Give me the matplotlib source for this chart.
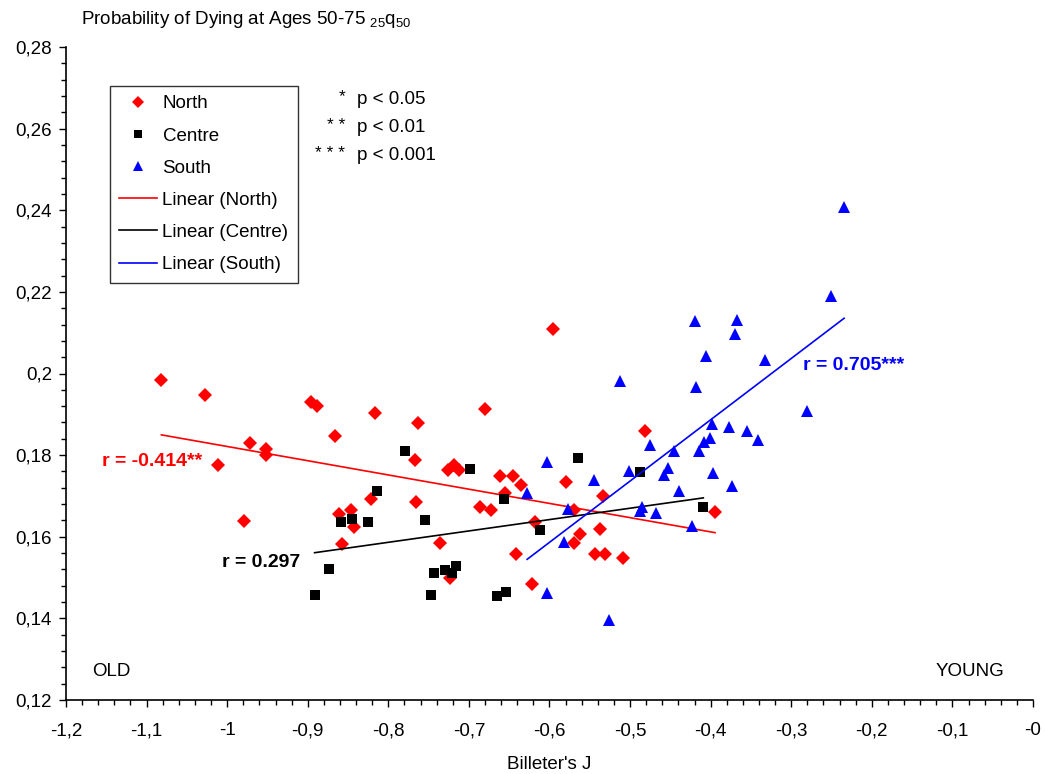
import numpy as np
import matplotlib
matplotlib.use('Agg')
import matplotlib.pyplot as plt
from matplotlib.lines import Line2D
from matplotlib.ticker import MultipleLocator, FuncFormatter

plt.rcParams['font.family'] = ['Liberation Sans', 'DejaVu Sans']
plt.rcParams['mathtext.default'] = 'regular'

# Billeter's J (x) and 25q50 (y), per region
north_x = [-1.0816, -1.0277, -0.8965, -0.8886, -0.8170, -0.8658, -0.9714, -0.9520,
           -0.9520, -1.0116, -0.9789, -0.8211, -0.8610, -0.8463, -0.8422, -0.8580,
           -0.5954, -0.6800, -0.7631, -0.7673, -0.7258, -0.7189, -0.7126, -0.6609,
           -0.6451, -0.6356, -0.6547, -0.7652, -0.6857, -0.6720, -0.5797, -0.5337,
           -0.5702, -0.4816, -0.3946, -0.6182, -0.5379, -0.5623, -0.5702, -0.7363,
           -0.6418, -0.5433, -0.5308, -0.5085, -0.7230, -0.6220]
north_y = [0.1985, 0.1948, 0.1929, 0.1920, 0.1902, 0.1848, 0.1829, 0.1814,
           0.1801, 0.1776, 0.1638, 0.1692, 0.1655, 0.1666, 0.1625, 0.1582,
           0.2110, 0.1913, 0.1878, 0.1787, 0.1764, 0.1777, 0.1764, 0.1750,
           0.1750, 0.1727, 0.1706, 0.1684, 0.1673, 0.1665, 0.1733, 0.1701,
           0.1666, 0.1860, 0.1661, 0.1636, 0.1619, 0.1607, 0.1585, 0.1585,
           0.1558, 0.1558, 0.1558, 0.1547, 0.1500, 0.1485]

centre_x = [-0.8141, -0.8588, -0.8456, -0.8257, -0.8741, -0.8915, -0.7797, -0.6985,
            -0.5652, -0.4882, -0.6559, -0.7544, -0.6116, -0.4091, -0.7429, -0.7292,
            -0.7159, -0.7214, -0.7466, -0.6654, -0.6538]
centre_y = [0.1713, 0.1637, 0.1644, 0.1637, 0.1522, 0.1458, 0.1809, 0.1766,
            0.1793, 0.1758, 0.1692, 0.1640, 0.1617, 0.1674, 0.1510, 0.1518,
            0.1529, 0.1510, 0.1457, 0.1454, 0.1464]

south_x = [-0.2344, -0.2501, -0.4199, -0.3673, -0.3693, -0.4062, -0.3329, -0.5122,
           -0.4178, -0.2807, -0.3988, -0.3772, -0.3545, -0.3408, -0.4005, -0.4084,
           -0.4141, -0.4758, -0.4451, -0.6030, -0.5010, -0.5453, -0.4530, -0.4584,
           -0.3967, -0.3735, -0.4389, -0.6277, -0.5772, -0.4849, -0.4882, -0.4683,
           -0.4236, -0.5817, -0.6030, -0.5263]
south_y = [0.2407, 0.2191, 0.2128, 0.2132, 0.2098, 0.2042, 0.2034, 0.1981,
           0.1968, 0.1908, 0.1877, 0.1870, 0.1858, 0.1836, 0.1843, 0.1831,
           0.1810, 0.1824, 0.1809, 0.1782, 0.1760, 0.1740, 0.1768, 0.1752,
           0.1756, 0.1725, 0.1713, 0.1706, 0.1668, 0.1674, 0.1663, 0.1658,
           0.1626, 0.1588, 0.1461, 0.1396]

r_labels = ['r = -0.414**', 'r = 0.297', 'r = 0.705***']
sig_stars = ['*', '* *', '* * *']
sig_text = ['p < 0.05', 'p < 0.01', 'p < 0.001']

W, H = 1045, 774
fig = plt.figure(figsize=(W / 100, H / 100), dpi=100)
ax = fig.add_axes([66 / W, 1 - 700 / H, (1033 - 66) / W, (700 - 47) / H])

groups = [
    (north_x, north_y, 'red', 'D', 7.2, 'North'),
    (centre_x, centre_y, 'black', 's', 7.0, 'Centre'),
    (south_x, south_y, 'blue', '^', 8.5, 'South'),
]

marker_handles = []
line_handles = []
for gx, gy, col, mk, ms, name in groups:
    gx = np.array(gx)
    gy = np.array(gy)
    ax.plot(gx, gy, linestyle='none', marker=mk, color=col, markersize=ms,
            markeredgewidth=0)
    # Excel style linear trendline over the data range
    k, b = np.polyfit(gx, gy, 1)
    xs = np.array([gx.min(), gx.max()])
    ax.plot(xs, k * xs + b, color=col, lw=1.2)
    marker_handles.append(Line2D([], [], linestyle='none', marker=mk, color=col,
                                 markersize=ms * 0.85, markeredgewidth=0, label=name))
    line_handles.append(Line2D([], [], color=col, lw=1.2, label='Linear (%s)' % name))

ax.set_xlim(-1.2, 0)
ax.set_ylim(0.12, 0.28)
ax.xaxis.set_major_locator(MultipleLocator(0.1))
ax.xaxis.set_minor_locator(MultipleLocator(0.02))
ax.yaxis.set_major_locator(MultipleLocator(0.02))
ax.yaxis.set_minor_locator(MultipleLocator(0.004))
fmt = FuncFormatter(lambda v, p: ('%g' % round(v, 3)).replace('.', ','))
ax.xaxis.set_major_formatter(fmt)
ax.yaxis.set_major_formatter(fmt)
ax.tick_params(which='major', direction='out', length=5, width=1, labelsize=13.5,
               colors='black', pad=5)
ax.tick_params(which='minor', direction='out', length=3.5, width=1)
ax.tick_params(axis='x', pad=11)
for s in ['top', 'right']:
    ax.spines[s].set_visible(False)
for s in ['left', 'bottom']:
    ax.spines[s].set_linewidth(1.2)

ax.set_xlabel("Billeter's J", fontsize=13.5, labelpad=12)

fig.text(81 / W, 1 - 20 / H, 'Probability of Dying at Ages 50-75 $_{25}$q$_{50}$',
         fontsize=13.5, va='center', ha='left')

# correlation labels
ax.text(-1.155, 0.1784, r_labels[0], color='red', fontsize=14, fontweight='bold',
        va='center', ha='left')
ax.text(-1.0066, 0.1536, r_labels[1], color='black', fontsize=14, fontweight='bold',
        va='center', ha='left')
ax.text(-0.2853, 0.2020, r_labels[2], color='blue', fontsize=14, fontweight='bold',
        va='center', ha='left')

ax.text(-1.168, 0.1271, 'OLD', fontsize=13.5, va='center', ha='left')
ax.text(-0.035, 0.1271, 'YOUNG', fontsize=13.5, va='center', ha='right')

# significance key
for i in range(3):
    yy = 1 - (99 + 28.5 * i) / H
    fig.text(345 / W, yy + 2 / H, sig_stars[i], fontsize=12.5, ha='right', va='center')
    fig.text(357 / W, yy, sig_text[i], fontsize=13.5, ha='left', va='center')

leg = ax.legend(handles=marker_handles + line_handles, loc='upper left',
                bbox_to_anchor=(110 / W, 1 - 86 / H), bbox_transform=fig.transFigure,
                fontsize=13.5, frameon=True, fancybox=False, borderaxespad=0,
                handlelength=2.0, handletextpad=0.3, labelspacing=0.8,
                borderpad=0.5)
leg.get_frame().set_edgecolor('black')
leg.get_frame().set_linewidth(1.0)

fig.savefig('out.png', dpi=100)
